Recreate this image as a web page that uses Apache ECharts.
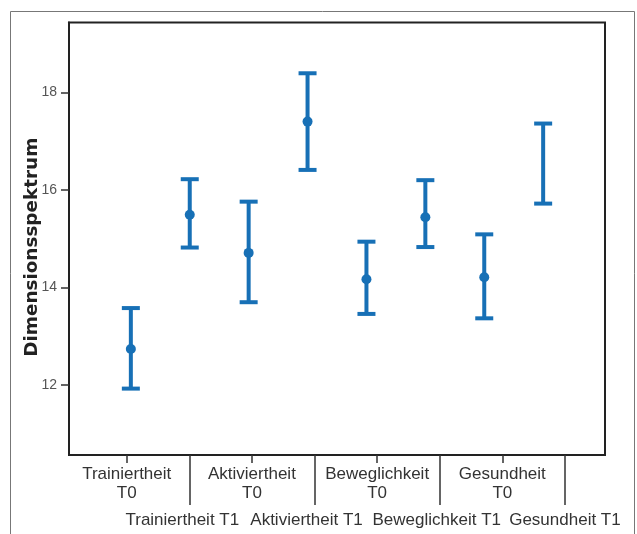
<!DOCTYPE html>
<html>
<head>
<meta charset="utf-8">
<script src="https://cdn.jsdelivr.net/npm/echarts@6/dist/echarts.min.js"></script>
<style>html,body{margin:0;padding:0;background:#fff}#c{width:637px;height:534px}</style>
</head>
<body>
<div id="c"></div>
<script>
// ---- data ----
const categories = ['Trainiertheit T0','Trainiertheit T1','Aktiviertheit T0','Aktiviertheit T1','Beweglichkeit T0','Beweglichkeit T1','Gesundheit T0','Gesundheit T1'];
const lowerValues = [11.93, 14.82, 13.70, 16.41, 13.46, 14.83, 13.37, 15.72];
const upperValues = [13.58, 16.22, 15.76, 18.39, 14.94, 16.20, 15.09, 17.36];
const meanValues  = [12.74, 15.49, 14.71, 17.40, 14.17, 15.44, 14.21, null];
const t0Labels = ['Trainiertheit\nT0', 'Aktiviertheit\nT0', 'Beweglichkeit\nT0', 'Gesundheit\nT0'];
const t1Labels = ['Trainiertheit T1', 'Aktiviertheit T1', 'Beweglichkeit T1', 'Gesundheit T1'];
const yTicks = [12, 14, 16, 18];

// ---- layout ----
const BLUE = '#1770b6';
const TICK_PX = 62.6;                 // spacing of label ticks in px
const t1LabelShiftPx = [-7, -8, -3, 0]; // reference nudges T1 labels left to avoid overlap

const chart = echarts.init(document.getElementById('c'), null, {renderer: 'canvas'});

const errData = categories.map((c, i) => [i + 1, lowerValues[i], upperValues[i]]);
const meanData = categories.map((c, i) => [i + 1, meanValues[i]]).filter(d => d[1] != null);

const t0Pos = t0Labels.map((_, i) => 2 * i);
const t1Pos = t1Labels.map((_, i) => 2 * i + 1);
const t1LabelPos = t1Pos.map((p, i) => p + t1LabelShiftPx[i] / TICK_PX);

const labelFont = {color: '#333', fontSize: 17, fontFamily: 'Liberation Sans', align: 'center', lineHeight: 19};
const labelAxisBase = {
  type: 'value', position: 'bottom', min: -0.922, max: 7.64,
  axisLine: {show: false}, splitLine: {show: false}
};

chart.setOption({
  animation: false,
  backgroundColor: '#fff',
  graphic: [{
    type: 'rect', shape: {x: 10.5, y: 11.5, width: 624, height: 600},
    style: {fill: 'none', stroke: '#777', lineWidth: 1}, silent: true
  }],
  grid: {
    left: 69, right: 32, top: 22.5, bottom: 79,
    show: true, borderColor: '#222', borderWidth: 2, backgroundColor: 'transparent',
    outerBoundsMode: 'none', containLabel: false
  },
  xAxis: [
    {type: 'value', min: -0.05, max: 9.05, show: true,
     axisLine: {show: false}, axisTick: {show: false}, axisLabel: {show: false}, splitLine: {show: false}},
    Object.assign({}, labelAxisBase, {
      axisTick: {show: true, length: 8, lineStyle: {color: '#333', width: 1.5}, customValues: t0Pos},
      axisLabel: Object.assign({show: true, customValues: t0Pos, hideOverlap: false,
                  formatter: v => t0Labels[Math.round(v / 2)], margin: 9.5}, labelFont)
    }),
    Object.assign({}, labelAxisBase, {
      axisTick: {show: true, length: 50, lineStyle: {color: '#333', width: 1.5}, customValues: t1Pos},
      axisLabel: Object.assign({show: true, customValues: t1LabelPos, hideOverlap: false,
                  formatter: v => t1Labels[Math.round((v - 1) / 2)], margin: 55.5}, labelFont)
    })
  ],
  yAxis: {
    type: 'value', min: 10.57, max: 19.43,
    name: 'Dimensionsspektrum', nameLocation: 'middle', nameGap: 28, nameRotate: 90,
    nameMoveOverlap: false,
    nameTextStyle: {fontFamily: 'DejaVu Sans', fontWeight: 'bold', fontSize: 18.4, color: '#222',
                    padding: [0, 17, 0, 0]},
    axisLine: {show: true, onZero: false, lineStyle: {color: '#222', width: 2}},
    axisTick: {show: true, length: 8, lineStyle: {color: '#333', width: 1.5}, customValues: yTicks},
    axisLabel: {show: true, customValues: yTicks, margin: 12, color: '#555', fontSize: 14,
                fontFamily: 'Liberation Sans'},
    splitLine: {show: false}
  },
  series: [
    {
      type: 'custom', xAxisIndex: 0, yAxisIndex: 0, data: errData,
      renderItem: function (params, api) {
        const x = api.value(0);
        const pLo = api.coord([x, api.value(1)]);
        const pHi = api.coord([x, api.value(2)]);
        const hw = 9;
        const st = {stroke: BLUE, lineWidth: 4, lineCap: 'butt'};
        return {type: 'group', children: [
          {type: 'line', shape: {x1: pLo[0], y1: pLo[1], x2: pHi[0], y2: pHi[1]}, style: st},
          {type: 'line', shape: {x1: pLo[0] - hw, y1: pLo[1], x2: pLo[0] + hw, y2: pLo[1]}, style: st},
          {type: 'line', shape: {x1: pHi[0] - hw, y1: pHi[1], x2: pHi[0] + hw, y2: pHi[1]}, style: st}
        ]};
      }
    },
    {
      type: 'scatter', xAxisIndex: 0, yAxisIndex: 0, data: meanData,
      symbol: 'circle', symbolSize: 10, itemStyle: {color: BLUE, opacity: 1}, z: 3
    }
  ]
});
</script>
</body>
</html>
